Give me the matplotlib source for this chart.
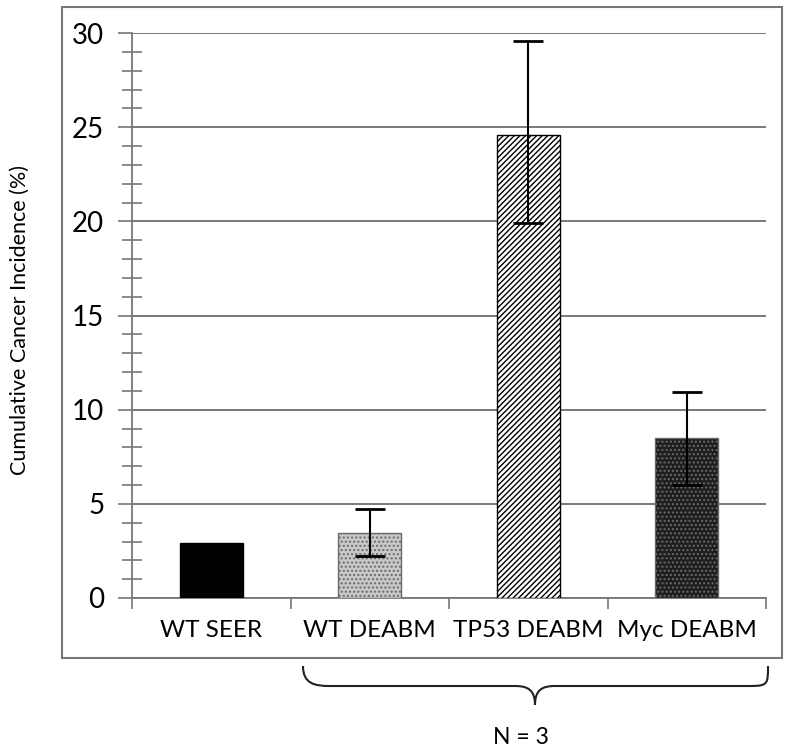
import matplotlib.pyplot as plt
import matplotlib.patches as patches
from matplotlib.path import Path
from matplotlib.ticker import FixedLocator, MultipleLocator
import numpy as np

plt.rcParams['font.family'] = ['Lato', 'DejaVu Sans']
plt.rcParams['hatch.linewidth'] = 1.0

groups = ["WT SEER", "WT DEABM", "TP53 DEABM", "Myc DEABM"]
incidence = [2.9, 3.45, 24.6, 8.5]
err_low = [0, 1.2, 4.7, 2.5]
err_high = [0, 1.25, 5.0, 2.45]
faces = ["black", "#c8c8c8", "white", "#1e1e1e"]
hatches = [None, "....", "//////", "...."]
hatch_cols = ["black", "#6a6a6a", "black", "#6a6a6a"]

W, H = 792, 753
fig = plt.figure(figsize=(W / 100, H / 100), dpi=100)


def fx(px):
    return px / W


def fy(py):
    return 1 - py / H


ax = fig.add_axes([fx(132), fy(598), fx(766) - fx(132), fy(33) - fy(598)])

x = np.arange(len(groups)) + 0.5
for i in range(len(groups)):
    ax.bar(x[i], incidence[i], 0.4, color=faces[i], edgecolor=hatch_cols[i],
           hatch=hatches[i], linewidth=1.0, zorder=3)
    if err_high[i] > 0:
        ax.errorbar(x[i], incidence[i], yerr=[[err_low[i]], [err_high[i]]],
                    fmt="none", ecolor="black", elinewidth=1.5, capsize=11,
                    capthick=2, zorder=4)

ax.set_xlim(0, 4)
ax.set_ylim(0, 30)

# category boundaries as major x ticks, names as minor
ax.set_xticks([0, 1, 2, 3, 4])
ax.set_xticklabels([])
ax.xaxis.set_minor_locator(FixedLocator(x))
ax.set_xticklabels(groups, minor=True, fontsize=17.5)
ax.tick_params(axis="x", which="major", direction="out", length=8, color="#777777", width=1.2)
ax.tick_params(axis="x", which="minor", length=0, pad=16)

ax.set_yticks(np.arange(0, 31, 5))
ax.yaxis.set_minor_locator(MultipleLocator(1))
ax.tick_params(axis="y", which="major", direction="out", length=10, color="#777777",
               width=1.2, labelsize=20, pad=10)
ax.tick_params(axis="y", which="minor", direction="inout", length=14, color="#777777", width=1.2)

ax.grid(axis="y", which="major", color="#6e6e6e", linewidth=1.3, zorder=0)
ax.set_axisbelow(True)
for s in ["top", "right"]:
    ax.spines[s].set_visible(False)
for s in ["left", "bottom"]:
    ax.spines[s].set_color("#777777")
    ax.spines[s].set_linewidth(1.3)

fig.text(fx(20), fy(320), "Cumulative Cancer Incidence (%)", rotation=90,
         ha="center", va="center", fontsize=15.5)

# outer frame
fig.patches.append(patches.Rectangle((fx(62), fy(658)), fx(782) - fx(62), fy(7) - fy(658),
                                     transform=fig.transFigure, fill=False,
                                     edgecolor="#777777", linewidth=1.5))

# curly brace under the DEABM groups
pts = [(303, 666), (303, 684), (315, 686), (330, 686),
       (515, 686), (528, 686), (535, 690), (535, 705),
       (535, 690), (542, 686), (555, 686),
       (750, 686), (768, 686), (768, 684), (768, 666)]
codes = [Path.MOVETO, Path.CURVE4, Path.CURVE4, Path.CURVE4,
         Path.LINETO, Path.CURVE4, Path.CURVE4, Path.CURVE4,
         Path.CURVE4, Path.CURVE4, Path.CURVE4,
         Path.LINETO, Path.CURVE4, Path.CURVE4, Path.CURVE4]
brace = Path([(fx(a), fy(b)) for a, b in pts], codes)
fig.patches.append(patches.PathPatch(brace, transform=fig.transFigure, fill=False,
                                     edgecolor="#222222", linewidth=1.5))

fig.text(fx(521), fy(737), "N = 3", ha="center", va="center", fontsize=16.5)

fig.savefig("out.png", dpi=100)
